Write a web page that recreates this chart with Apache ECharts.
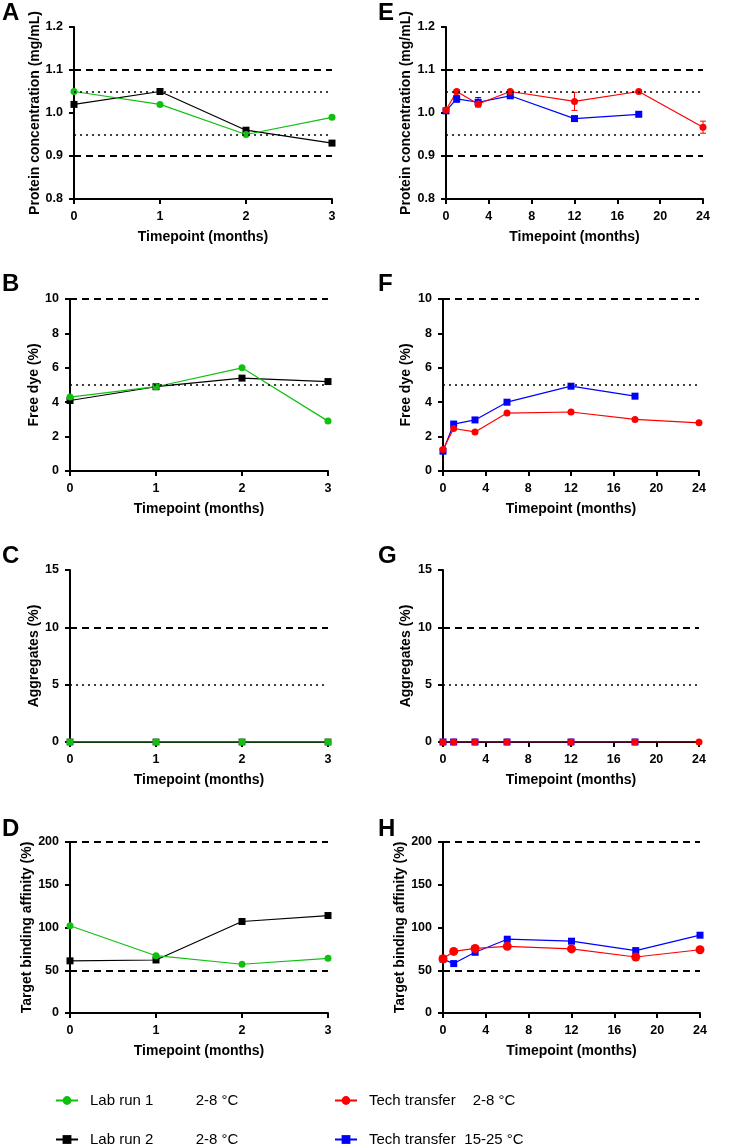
<!DOCTYPE html>
<html>
<head>
<meta charset="utf-8">
<script src="https://cdn.jsdelivr.net/npm/echarts@6/dist/echarts.min.js"></script>
<style>
  html, body { margin: 0; padding: 0; background: #fff; }
  #main { width: 734px; height: 1144px; }
</style>
</head>
<body>
<div id="main"></div>
<script>
// time points (months)
var monthsLab = [0, 1, 2, 3];
var monthsTT = [0, 1, 3, 6, 12, 18, 24];
var monthsTT1525 = [0, 1, 3, 6, 12, 18];

// A / E  protein concentration (mg/mL)
var concLab1 = [1.05, 1.02, 0.95, 0.99];
var concLab2 = [1.02, 1.05, 0.96, 0.93];
var concTT28 = [1.007, 1.05, 1.021, 1.05, 1.027, 1.05, 0.967];
var concTT28Err = [0.003, 0.004, 0.006, 0.004, 0.021, 0.003, 0.014];
var concTT1525 = [1.005, 1.033, 1.025, 1.04, 0.987, 0.997];
var concTT1525Err = [0.003, 0.008, 0.011, 0.004, 0.003, 0.003];

// B / F  free dye (%)
var dyeLab1 = [4.3, 4.9, 6.0, 2.9];
var dyeLab2 = [4.1, 4.9, 5.4, 5.2];
var dyeTT28 = [1.25, 2.47, 2.27, 3.37, 3.43, 3.0, 2.8];
var dyeTT1525 = [1.15, 2.73, 2.97, 4.0, 4.93, 4.35];

// C / G  aggregates (%)
var aggLab1 = [0, 0, 0, 0];
var aggLab2 = [0, 0, 0, 0];
var aggTT28 = [0, 0, 0, 0, 0, 0, 0];
var aggTT1525 = [0, 0, 0, 0, 0, 0];

// D / H  target binding affinity (%)
var affLab1 = [102, 67, 57, 64];
var affLab2 = [61, 62, 107, 114];
var affTT28 = [63.5, 72, 75.5, 78, 75, 65.5, 74];
var affTT1525 = [63, 57.8, 71, 86.3, 84, 73, 91];

// acceptance limits
var concDashed = [1.1, 0.9], concDotted = [1.05, 0.95];
var dyeDashed = [10], dyeDotted = [5];
var aggDashed = [10], aggDotted = [5];
var affDashed = [200, 50], affDotted = [];

var seriesNames = ["Lab run 1", "Lab run 2", "Tech transfer (2-8 °C)", "Tech transfer (15-25 °C)"];
var legendText = {
  "Lab run 1": ["Lab run 1", "2-8 °C"],
  "Lab run 2": ["Lab run 2", "2-8 °C"],
  "Tech transfer (2-8 °C)": ["Tech transfer", "2-8 °C"],
  "Tech transfer (15-25 °C)": ["Tech transfer", "15-25 °C"]
};

var GREEN = "#10c010", BLACK = "#000", RED = "#ff0000", BLUE = "#0000ff";
var FONT = "Liberation Sans, Arial, sans-serif";

function zip(xs, ys) {
  return xs.map(function (x, i) { return [x, ys[i]]; });
}

// panel layout
var panels = [
  { letter: "A", left: 74, top: 27, width: 258, height: 172, min: 0.8, max: 1.2, step: 0.1, dec: 1, title: "Protein concentration (mg/mL)", gap: 31, xmax: 3, xstep: 1 },
  { letter: "B", left: 70, top: 299, width: 258, height: 172, min: 0, max: 10, step: 2, dec: 0, title: "Free dye (%)", gap: 28, xmax: 3, xstep: 1 },
  { letter: "C", left: 70, top: 570, width: 258, height: 172, min: 0, max: 15, step: 5, dec: 0, title: "Aggregates (%)", gap: 28, xmax: 3, xstep: 1 },
  { letter: "D", left: 70, top: 842, width: 258, height: 171, min: 0, max: 200, step: 50, dec: 0, title: "Target binding affinity (%)", gap: 28, xmax: 3, xstep: 1 },
  { letter: "E", left: 446, top: 27, width: 257, height: 172, min: 0.8, max: 1.2, step: 0.1, dec: 1, title: "Protein concentration (mg/mL)", gap: 33, xmax: 24, xstep: 4 },
  { letter: "F", left: 443, top: 299, width: 256, height: 172, min: 0, max: 10, step: 2, dec: 0, title: "Free dye (%)", gap: 30, xmax: 24, xstep: 4 },
  { letter: "G", left: 443, top: 570, width: 256, height: 172, min: 0, max: 15, step: 5, dec: 0, title: "Aggregates (%)", gap: 30, xmax: 24, xstep: 4 },
  { letter: "H", left: 443, top: 842, width: 257, height: 171, min: 0, max: 200, step: 50, dec: 0, title: "Target binding affinity (%)", gap: 30, xmax: 24, xstep: 4 }
];

var refs = [
  [concDashed, concDotted], [dyeDashed, dyeDotted], [aggDashed, aggDotted], [affDashed, affDotted],
  [concDashed, concDotted], [dyeDashed, dyeDotted], [aggDashed, aggDotted], [affDashed, affDotted]
];

var grids = [], xAxes = [], yAxes = [], series = [], graphics = [];

panels.forEach(function (p, i) {
  grids.push({ left: p.left, top: p.top, width: p.width, height: p.height });
  xAxes.push({
    gridIndex: i, type: "value", min: 0, max: p.xmax, interval: p.xstep,
    name: "Timepoint (months)", nameLocation: "middle", nameGap: 31,
    nameTextStyle: { fontFamily: FONT, fontWeight: "bold", fontSize: 14, color: "#000" },
    axisLine: { onZero: false, lineStyle: { color: "#000", width: 2 } },
    axisTick: { length: 5, lineStyle: { color: "#000", width: 2 } },
    axisLabel: { fontFamily: FONT, fontWeight: "bold", fontSize: 12.5, color: "#000", margin: 11 },
    splitLine: { show: false }
  });
  yAxes.push({
    gridIndex: i, type: "value", min: p.min, max: p.max, interval: p.step,
    name: p.title, nameLocation: "middle", nameGap: p.gap,
    nameTextStyle: { fontFamily: FONT, fontWeight: "bold", fontSize: 14, color: "#000" },
    axisLine: { show: true, onZero: false, lineStyle: { color: "#000", width: 2 } },
    axisTick: { show: true, length: 5, lineStyle: { color: "#000", width: 2 } },
    axisLabel: {
      fontFamily: FONT, fontWeight: "bold", fontSize: 12.5, color: "#000", margin: 11,
      formatter: function (v) { return v.toFixed(p.dec); }
    },
    splitLine: { show: false }
  });
  // panel letter
  graphics.push({
    type: "text",
    left: i < 4 ? 2 : 378,
    top: [1, 272, 544, 817][i % 4],
    style: { text: p.letter, font: "bold 24px " + FONT, fill: "#000" }
  });
});

function refLines(i) {
  var d = [];
  refs[i][0].forEach(function (v) {
    d.push({ yAxis: v, lineStyle: { type: [7, 5], width: 2, color: "#000" } });
  });
  refs[i][1].forEach(function (v) {
    d.push({ yAxis: v, lineStyle: { type: [2, 4], width: 1.6, color: "#000" } });
  });
  return { silent: true, symbol: "none", label: { show: false }, animation: false, data: d };
}

function lineSeries(name, idx, xs, ys, color, symbol, size) {
  return {
    name: name, type: "line", xAxisIndex: idx, yAxisIndex: idx,
    data: zip(xs, ys), color: color,
    symbol: symbol, symbolSize: size, showSymbol: true,
    lineStyle: { width: 1.2, color: color },
    itemStyle: { color: color },
    animation: false, z: 3
  };
}

function errSeries(idx, xs, ys, errs, color) {
  var d = xs.map(function (x, i) { return [x, ys[i] - errs[i], ys[i] + errs[i]]; });
  return {
    type: "custom", xAxisIndex: idx, yAxisIndex: idx, data: d, z: 2, animation: false, silent: true,
    renderItem: function (params, api) {
      var top = api.coord([api.value(0), api.value(2)]);
      var bot = api.coord([api.value(0), api.value(1)]);
      var st = { stroke: color, lineWidth: 1 };
      return {
        type: "group",
        children: [
          { type: "line", shape: { x1: top[0], y1: top[1], x2: bot[0], y2: bot[1] }, style: st },
          { type: "line", shape: { x1: top[0] - 3, y1: top[1], x2: top[0] + 3, y2: top[1] }, style: st },
          { type: "line", shape: { x1: bot[0] - 3, y1: bot[1], x2: bot[0] + 3, y2: bot[1] }, style: st }
        ]
      };
    }
  };
}

var labData = [[concLab1, concLab2], [dyeLab1, dyeLab2], [aggLab1, aggLab2], [affLab1, affLab2]];
var ttData = [[concTT28, concTT1525], [dyeTT28, dyeTT1525], [aggTT28, aggTT1525], [affTT28, affTT1525]];

for (var k = 0; k < 4; k++) {
  var s2 = lineSeries(seriesNames[1], k, monthsLab, labData[k][1], k == 2 ? "#444" : BLACK, "rect", 7);
  s2.markLine = refLines(k);
  series.push(s2);
  series.push(lineSeries(seriesNames[0], k, monthsLab, labData[k][0], GREEN, "circle", 7));

  var j = k + 4;
  var blueX = k == 3 ? monthsTT : monthsTT1525;
  var s4 = lineSeries(seriesNames[3], j, blueX, ttData[k][1], BLUE, "rect", 7);
  s4.markLine = refLines(j);
  series.push(s4);
  series.push(lineSeries(seriesNames[2], j, monthsTT, ttData[k][0], RED, "circle", k == 3 ? 9 : 7));
}
series.push(errSeries(4, monthsTT1525, concTT1525, concTT1525Err, BLUE));
series.push(errSeries(4, monthsTT, concTT28, concTT28Err, RED));

function legendFormatter(name) {
  var t = legendText[name];
  return "{a|" + t[0] + "}{b|" + t[1] + "}";
}

// one legend per entry, so each row sits where it should
function legendBox(left, top, name, aw) {
  return {
    orient: "horizontal", left: left, top: top,
    itemWidth: 22, itemHeight: 11, data: [name], selectedMode: false,
    formatter: legendFormatter,
    textStyle: {
      fontFamily: FONT, fontSize: 15, color: "#000",
      rich: {
        a: { width: aw, padding: [0, 0, 0, 7], fontFamily: FONT, fontSize: 15, color: "#000" },
        b: { width: 64, align: "center", fontFamily: FONT, fontSize: 15, color: "#000" }
      }
    }
  };
}

var myChart = echarts.init(document.getElementById("main"), null, { renderer: "canvas" });
var option = {
  backgroundColor: "#fff",
  animation: false,
  grid: grids,
  xAxis: xAxes,
  yAxis: yAxes,
  legend: [
    legendBox(50, 1088, seriesNames[0], 95),
    legendBox(50, 1127, seriesNames[1], 95),
    legendBox(329, 1088, seriesNames[2], 93),
    legendBox(329, 1127, seriesNames[3], 93)
  ],
  graphic: graphics,
  series: series
};
myChart.setOption(option);
</script>
</body>
</html>
